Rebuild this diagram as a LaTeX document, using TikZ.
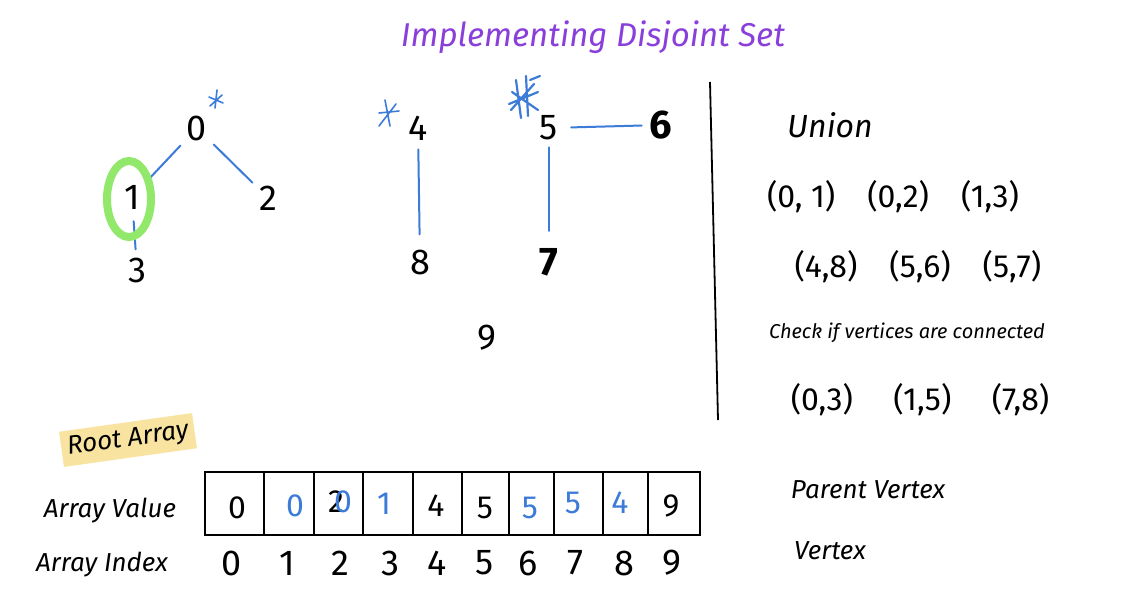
\documentclass[tikz,border=0pt]{standalone}
\usepackage{fontspec}
\setmainfont{Fira Sans}
\definecolor{lblue}{HTML}{3D7BD9}
\definecolor{purp}{HTML}{8A3FDB}
\definecolor{hgreen}{HTML}{92E86A}
\definecolor{hyellow}{HTML}{F8E3A0}
\begin{document}
\begin{tikzpicture}[x=1pt,y=-1pt,
  num/.style={font=\fontsize{36}{36}\selectfont, inner sep=3pt},
  bnum/.style={font=\fontsize{40}{40}\selectfont\bfseries, inner sep=3pt},
  edge/.style={draw=lblue, line width=2pt, line cap=round, shorten >=5pt, shorten <=5pt},
  star/.style={draw=lblue, line width=1.6pt, line cap=round},
  hand/.style={font=\fontsize{26}{26}\selectfont\itshape},
  pairs/.style={font=\fontsize{32}{32}\selectfont},
  val/.style={font=\fontsize{32}{32}\selectfont},
  idx/.style={font=\fontsize{36}{36}\selectfont}]
\useasboundingbox (0,0) rectangle (1130,598);
\fill[white] (0,0) rectangle (1130,598);

% title
\node[font=\fontsize{33}{33}\selectfont\itshape, text=purp] (title) at (593,37) {Implementing Disjoint Set};

% tree 0
\node[num] (n0) at (197,128) {0};
\node[num] (n1) at (132,197) {1};
\node[num] (n2) at (268,198) {2};
\node[num] (n3) at (137,270) {3};
\draw[edge] (n0) -- (n1);
\draw[edge] (n0) -- (n2);
\draw[edge, shorten <=9pt] (n1) -- (n3);
\draw[draw=hgreen, line width=8pt] (129,199) ellipse [x radius=22, y radius=38];
\draw[star] (217,90) -- (215,108) (209,97) -- (223,103) (222,95) -- (210,106);

% tree 4
\node[num] (n4) at (418,128) {4};
\node[num] (n8) at (420,262) {8};
\draw[edge, shorten >=12pt, shorten <=6pt] (n4) -- (n8);
\draw[star] (385,100) -- (390,126) (379,126) -- (396,104) (379,113) -- (399,111);

% tree 5
\node[num] (n5) at (549,128) {5};
\node[bnum] (n6) at (661,125) {6};
\node[bnum] (n7) at (549,262) {7};
\draw[edge, shorten >=14pt, shorten <=4pt] (n5) -- (n7);
\draw[edge, shorten <=10pt] (n5) -- (n6);
\draw[star, line width=2.2pt] (516,80) -- (521,118) (526,76) -- (528,116) (509,104) -- (538,92)
  (511,110) -- (534,84) (512,92) -- (538,110) (530,80) -- (540,76);

% isolated 9
\node[num] (n9) at (487,338) {9};

% divider
\coordinate (dtop) at (710,82);
\coordinate (dbot) at (718,420);
\draw[line width=1.8pt] (dtop) -- (dbot);

% right column
\node[font=\fontsize{32}{32}\selectfont\itshape] (union) at (830,125) {Union};
\node[pairs] (u1) at (893,197) {(0, 1)\quad (0,2)\quad (1,3)};
\node[pairs] (u2) at (918,267) {(4,8)\quad (5,6)\quad (5,7)};
\node[font=\fontsize{20}{20}\selectfont\itshape] (check) at (907,333) {Check if vertices are connected};
\node[pairs] (c1) at (920,400) {(0,3)\quad\ (1,5)\quad\ (7,8)};

% root array label
\node[hand, fill=hyellow, rotate=8, inner sep=6pt] (root) at (128,440) {Root Array};

% array
\node[hand] (av) at (110,511) {Array Value};
\node[hand] (ai) at (102,565) {Array Index};
\draw[line width=1.5pt] (205,472) rectangle (700,535);
\foreach \x in {264,314,363,413,462,509,554,603,648} \draw[line width=1.5pt] (\x,472) -- (\x,535);

\node[val] (v0) at (237,508) {0};
\node[val, text=lblue] (v1) at (295,506) {0};
\node[val] (v2) at (336,502) {2};
\node[val, text=lblue] (v2b) at (343,502) {0};
\node[val, text=lblue] (v3) at (384,504) {1};
\node[val] (v4) at (436,506) {4};
\node[val] (v5) at (485,508) {5};
\node[val, text=lblue] (v6) at (530,508) {5};
\node[val, text=lblue] (v7) at (573,503) {5};
\node[val, text=lblue] (v8) at (620,503) {4};
\node[val] (v9) at (671,506) {9};

\foreach \i/\x in {0/232,1/287,2/340,3/390,4/437,5/485,6/528,7/575,8/624,9/672}
  \node[idx] (i\i) at (\x,563) {\i};

\node[hand] (pv) at (868,490) {Parent Vertex};
\node[hand] (vx) at (830,551) {Vertex};
\end{tikzpicture}
\end{document}
